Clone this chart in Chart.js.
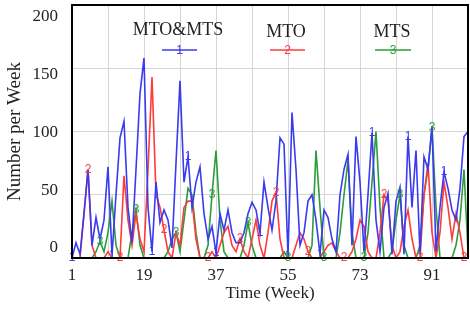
<!DOCTYPE html>
<html><head><meta charset="utf-8">
<script src="https://cdn.jsdelivr.net/npm/chart.js@4/dist/chart.umd.min.js"></script>
<style>html,body{margin:0;padding:0;background:#fff;}#wrap{width:470px;height:309px;position:relative;}canvas{display:block;}</style>
</head><body><div id="wrap"><canvas id="c" width="470" height="309"></canvas></div>
<script>
// Weeks (x axis)
const weeks = [1,2,3,4,5,6,7,8,9,10,11,12,13,14,15,16,17,18,19,20,21,22,23,24,25,26,27,28,29,30,31,32,33,34,35,36,37,38,39,40,41,42,43,44,45,46,47,48,49,50,51,52,53,54,55,56,57,58,59,60,61,62,63,64,65,66,67,68,69,70,71,72,73,74,75,76,77,78,79,80,81,82,83,84,85,86,87,88,89,90,91,92,93,94,95,96,97,98,99,100];
// Series values (Number per Week)
const mtoMts = [0,12,3,35,70,10,32,15,30,72, 2,50,95,108,40,12,70,130,158,40, 5,60,28,38,30,8,75,140,60,80, 40,60,72,35,15,25,4,35,22,38, 20,12,12,20,35,44,38,20,60,40, 22,45,95,90,2,115,70,10,20,45, 50,30,3,38,32,15,5,50,70,82, 10,96,60,5,50,99,30,5,40,51, 3,45,56,3,96,40,85,3,80,70, 104,5,40,68,55,38,30,55,96,100];
const mto = [0,0,0,35,70,10,0,0,0,5, 0,0,0,65,30,10,35,15,5,70, 143,50,40,22,5,0,20,10,40,45, 45,15,0,0,0,5,0,10,20,25, 10,5,15,5,0,15,30,10,0,20, 45,52,15,0,0,0,10,20,15,5, 0,0,0,5,10,12,5,0,0,0, 5,15,30,25,5,0,0,20,50,45, 10,0,5,25,38,15,0,0,50,75, 20,0,20,60,40,15,35,20,0,0];
const mts = [0,0,0,0,0,0,5,13,5,20, 45,10,0,0,0,20,38,10,0,0, 0,0,0,0,5,15,20,5,30,55, 50,20,0,0,10,50,85,30,5,0, 0,0,0,10,28,10,0,0,0,0, 0,0,0,5,0,0,0,0,0,0, 10,85,40,0,0,0,0,20,50,77, 20,0,0,0,20,60,100,40,0,0, 5,30,50,10,0,0,0,10,50,70, 103,40,0,0,0,0,10,30,70,5];
// Axis ticks
const gridWeeks = [1,10,19,28,37,46,55,64,73,82,91,100];
const labelWeeks = [1,19,37,55,73,91];
const yTicks = [0,50,100,150,200];
const seriesNames = ['MTO&MTS','MTO','MTS'];
const seriesMarks = ['1','2','3'];
const markIdx = [
  [0,10,20,29,36,47,54,62,75,84,93],
  [4,12,23,34,42,51,59,68,78,87,98],
  [7,16,26,35,44,54,63,73,82,90]
];
const colors = ['#3a3af0','#ff3b3b','#2a9e3a'];
const serif = '"Liberation Serif", "Times New Roman", serif';

const toPts = vals => weeks.map((w,i)=>({x:w,y:vals[i]}));

const framePlugin = {
  id:'frame',
  afterDatasetsDraw(chart){
    const ctx = chart.ctx;
    ctx.save();
    ctx.font = '12px "Liberation Sans", Arial, sans-serif';
    ctx.textAlign='center'; ctx.textBaseline='middle';
    chart.data.datasets.forEach((ds,di)=>{
      const meta = chart.getDatasetMeta(di);
      ctx.fillStyle = colors[di];
      markIdx[di].forEach(i=>{
        const p = meta.data[i];
        if(p) ctx.fillText(seriesMarks[di], p.x, p.y);
      });
    });
    ctx.restore();
  },
  afterDraw(chart){
    const ctx = chart.ctx, a = chart.chartArea;
    ctx.save();
    ctx.strokeStyle='#000'; ctx.lineWidth=2;
    ctx.strokeRect(a.left, a.top, a.right-a.left, a.bottom-a.top);
    const leg = [[178,30,162,197],[286,32,270,305],[392,32,375,411]];
    leg.forEach((l,i)=>{
      ctx.font = '18px '+serif; ctx.fillStyle='#222';
      ctx.textAlign='center'; ctx.textBaseline='middle';
      ctx.fillText(seriesNames[i], l[0], l[1]);
      ctx.strokeStyle=colors[i]; ctx.lineWidth=1.5;
      ctx.beginPath(); ctx.moveTo(l[2],50); ctx.lineTo(l[3],50); ctx.stroke();
      ctx.font='12px "Liberation Sans", Arial, sans-serif'; ctx.fillStyle=colors[i];
      ctx.fillText(seriesMarks[i], (l[2]+l[3])/2, 51);
    });
    ctx.restore();
  }
};

new Chart(document.getElementById('c'), {
  type:'line',
  data:{datasets:[
    {label:seriesNames[0], data:toPts(mtoMts), borderColor:colors[0], borderWidth:1.6, pointRadius:0, tension:0},
    {label:seriesNames[1], data:toPts(mto), borderColor:colors[1], borderWidth:1.6, pointRadius:0, tension:0},
    {label:seriesNames[2], data:toPts(mts), borderColor:colors[2], borderWidth:1.6, pointRadius:0, tension:0}
  ]},
  options:{
    responsive:false, maintainAspectRatio:false, animation:false, devicePixelRatio:1,
    layout:{padding:{top:5,right:2,left:0,bottom:0}},
    plugins:{legend:{display:false}, tooltip:{enabled:false}},
    scales:{
      x:{type:'linear', min:1, max:100,
        afterBuildTicks(s){ s.ticks = gridWeeks.map(v=>({value:v})); },
        afterFit(s){ s.height = 51; s.paddingLeft = 0; s.paddingRight = 0; },
        grid:{color:'#d6d6d6', lineWidth:1, drawTicks:false},
        border:{display:false},
        ticks:{autoSkip:false, maxRotation:0, padding:7, color:'#222', font:{family:serif,size:17},
          callback:v=> labelWeeks.includes(v) ? String(v) : ''},
        title:{display:true, text:'Time (Week)', color:'#222', font:{family:serif,size:17}, padding:{top:0,bottom:5}}
      },
      y:{position:'left', min:0, max:200,
        afterBuildTicks(s){ s.ticks = yTicks.map(v=>({value:v})); },
        afterFit(s){ s.width = 0; s.paddingTop = 0; s.paddingBottom = 0; },
        grid:{color:'#d6d6d6', lineWidth:1, drawTicks:false},
        border:{display:false},
        ticks:{display:false}
      },
      yLabels:{position:'left', min:-8.7, max:210.4,
        afterBuildTicks(s){ s.ticks = yTicks.map(v=>({value:v})); },
        afterFit(s){ s.width = 72; s.paddingTop = 0; s.paddingBottom = 0; },
        grid:{display:false, drawTicks:false},
        border:{display:false},
        ticks:{padding:14, color:'#222', font:{family:serif,size:17}},
        title:{display:true, text:'Number per Week', color:'#222', font:{family:serif,size:19}, padding:{top:4,bottom:0}}
      }
    }
  },
  plugins:[framePlugin]
});
</script></body></html>
